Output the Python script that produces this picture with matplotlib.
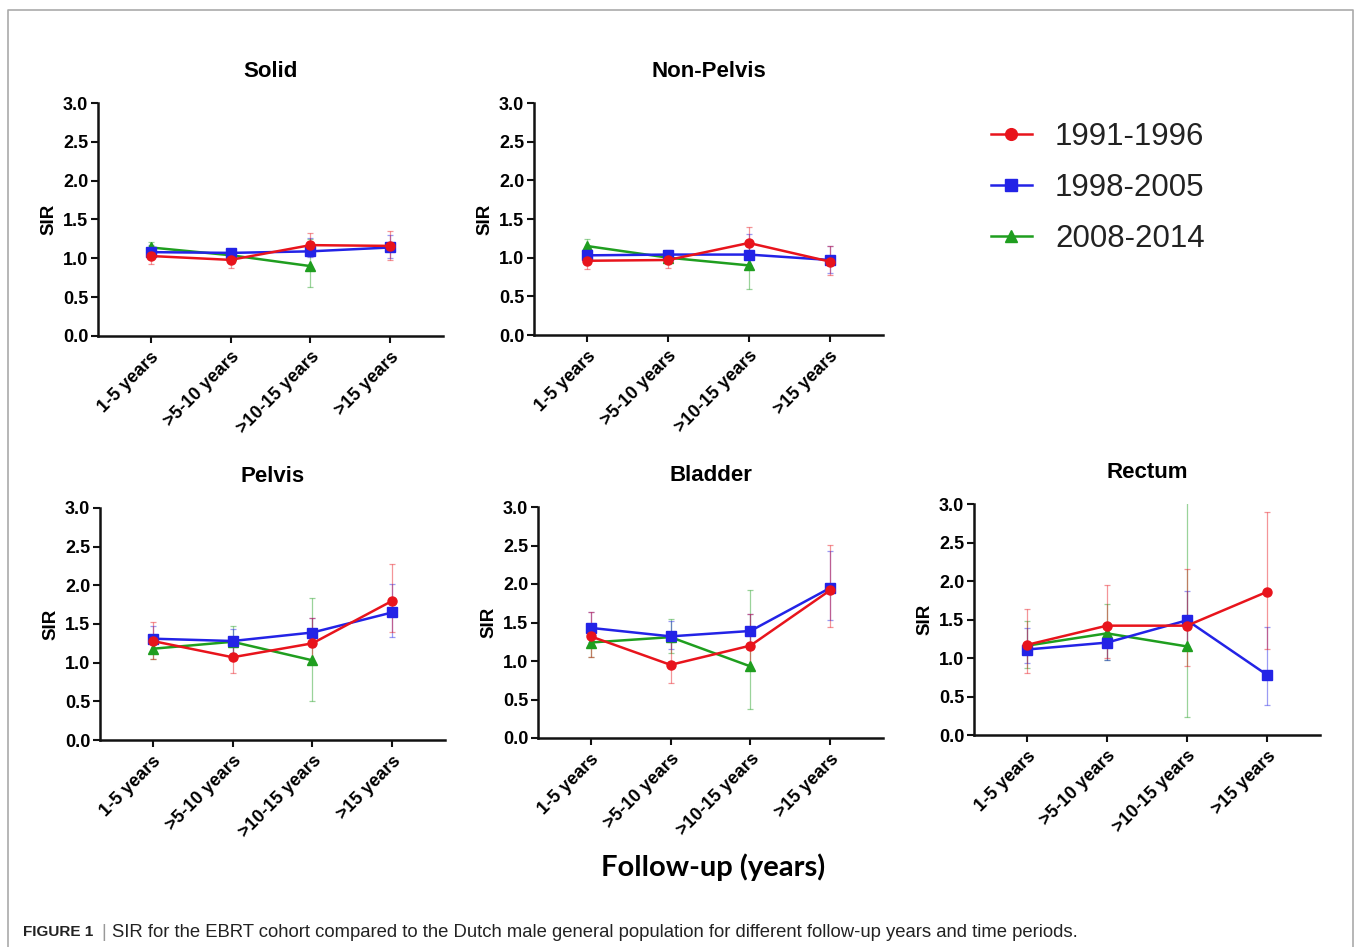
import matplotlib
matplotlib.use('Agg')
import matplotlib.pyplot as plt
from matplotlib.lines import Line2D
import numpy as np

plt.rcParams['font.family'] = ['Liberation Sans', 'DejaVu Sans']

# follow-up periods and treatment periods
periods = ['1-5 years', '>5-10 years', '>10-15 years', '>15 years']
cohorts = ['1991-1996', '1998-2005', '2008-2014']
colors = ['#e8141c', '#2323e6', '#1f9e1f']
markers = ['o', 's', '^']

# SIR per cohort (rows: 1991-1996, 1998-2005, 2008-2014) with 95% CI bounds
solid_sir = [[1.03, 0.98, 1.17, 1.16], [1.08, 1.07, 1.09, 1.14], [1.14, 1.04, 0.90]]
solid_lo = [[0.93, 0.88, 1.03, 0.98], [1.00, 1.02, 1.02, 1.00], [1.06, 0.97, 0.63]]
solid_hi = [[1.13, 1.08, 1.33, 1.35], [1.17, 1.12, 1.26, 1.30], [1.21, 1.11, 1.25]]

nonpelvis_sir = [[0.96, 0.97, 1.19, 0.95], [1.03, 1.04, 1.04, 0.97], [1.15, 1.00, 0.90]]
nonpelvis_lo = [[0.85, 0.87, 0.98, 0.78], [0.93, 0.98, 0.90, 0.80], [1.07, 0.92, 0.60]]
nonpelvis_hi = [[1.08, 1.07, 1.40, 1.15], [1.13, 1.10, 1.30, 1.15], [1.24, 1.08, 1.22]]

pelvis_sir = [[1.28, 1.07, 1.25, 1.80], [1.31, 1.28, 1.39, 1.65], [1.18, 1.27, 1.03]]
pelvis_lo = [[1.05, 0.87, 0.98, 1.40], [1.15, 1.12, 1.20, 1.33], [1.05, 1.10, 0.51]]
pelvis_hi = [[1.53, 1.30, 1.58, 2.27], [1.48, 1.43, 1.58, 2.02], [1.30, 1.47, 1.84]]

bladder_sir = [[1.32, 0.95, 1.20, 1.92], [1.43, 1.32, 1.39, 1.95], [1.24, 1.31, 0.93]]
bladder_lo = [[1.05, 0.72, 0.88, 1.44], [1.25, 1.15, 1.18, 1.53], [1.05, 1.10, 0.38]]
bladder_hi = [[1.64, 1.25, 1.61, 2.51], [1.64, 1.52, 1.61, 2.43], [1.45, 1.55, 1.92]]

rectum_sir = [[1.17, 1.42, 1.42, 1.86], [1.11, 1.20, 1.49, 0.78], [1.16, 1.32, 1.15]]
rectum_lo = [[0.80, 1.00, 0.89, 1.12], [0.93, 0.98, 1.15, 0.39], [0.87, 0.97, 0.24]]
rectum_hi = [[1.64, 1.95, 2.15, 2.90], [1.39, 1.45, 1.87, 1.40], [1.48, 1.70, 3.20]]

panels = [
    ('Solid', solid_sir, solid_lo, solid_hi, (98, 103, 443, 336)),
    ('Non-Pelvis', nonpelvis_sir, nonpelvis_lo, nonpelvis_hi, (534, 103, 883, 335)),
    ('Pelvis', pelvis_sir, pelvis_lo, pelvis_hi, (100, 508, 445, 740)),
    ('Bladder', bladder_sir, bladder_lo, bladder_hi, (538, 507, 883, 738)),
    ('Rectum', rectum_sir, rectum_lo, rectum_hi, (974, 504, 1320, 735)),
]

W, H = 1356, 947
fig = plt.figure(figsize=(W / 100, H / 100), dpi=100)

handles = []
for name, sir, lo, hi, box in panels:
    l, t, r, b = box
    ax = fig.add_axes([l / W, 1 - b / H, (r - l) / W, (b - t) / H])
    # draw newest cohort first so 1991-1996 ends on top
    for i in [2, 1, 0]:
        y = np.array(sir[i])
        x = np.arange(len(y))
        yerr = [y - np.array(lo[i]), np.array(hi[i]) - y]
        ax.errorbar(x, y, yerr=yerr, fmt='none', ecolor=colors[i], elinewidth=0.9,
                    capsize=2.5, capthick=0.9, alpha=0.45, zorder=2 + (2 - i))
        ln, = ax.plot(x, y, color=colors[i], lw=1.8, marker=markers[i], ms=6.5,
                      zorder=5 + (2 - i))
        if name == 'Solid':
            handles.append(ln)
    ax.set_xlim(-0.66, 3.66)
    ax.set_ylim(0, 3)
    ax.set_yticks(np.arange(0, 3.01, 0.5))
    ax.set_yticklabels(['%.1f' % v for v in np.arange(0, 3.01, 0.5)])
    ax.set_xticks(range(len(periods)))
    ax.set_xticklabels(periods, rotation=45, ha='right', va='top', rotation_mode='anchor')
    for s in ['top', 'right']:
        ax.spines[s].set_visible(False)
    for s in ['left', 'bottom']:
        ax.spines[s].set_linewidth(1.8)
        ax.spines[s].set_color('#111111')
    ax.tick_params(length=5, width=1.5, color='#111111', labelsize=13, pad=2)
    ax.tick_params(axis='x', pad=4)
    for lab in ax.get_xticklabels() + ax.get_yticklabels():
        lab.set_fontweight('bold')
    ax.set_ylabel('SIR', fontsize=13.5, fontweight='bold', labelpad=4)
    ax.set_title(name, fontsize=16, fontweight='bold', pad=19)

handles = handles[::-1]
fig.legend(handles, cohorts, loc='center left', bbox_to_anchor=(991 / W, 1 - 188 / H),
           frameon=False, fontsize=22.5, handlelength=1.3, handletextpad=0.75,
           labelspacing=0.68, borderpad=0, borderaxespad=0, markerscale=1.3,
           labelcolor='#222222')

fig.text(713 / W, 1 - 867 / H, 'Follow-up (years)', ha='center', va='center',
         fontsize=21, fontweight='bold', family=['Lato', 'DejaVu Sans'])

# caption
fig.text(23 / W, 1 - 932 / H, 'FIGURE 1', ha='left', va='center', fontsize=11,
         fontweight='bold', color='#222222')
fig.text(101 / W, 1 - 932 / H, '|', ha='left', va='center', fontsize=13, color='#999999')
fig.text(112 / W, 1 - 932 / H,
         'SIR for the EBRT cohort compared to the Dutch male general population '
         'for different follow-up years and time periods.',
         ha='left', va='center', fontsize=13.3, color='#222222')

# frame around the figure
fig.add_artist(Line2D([8 / W, 8 / W, 1353 / W, 1353 / W], [0, 1 - 10 / H, 1 - 10 / H, 0],
                      color='#aaaaaa', lw=1.2, transform=fig.transFigure))

fig.savefig('out.png', dpi=100)
